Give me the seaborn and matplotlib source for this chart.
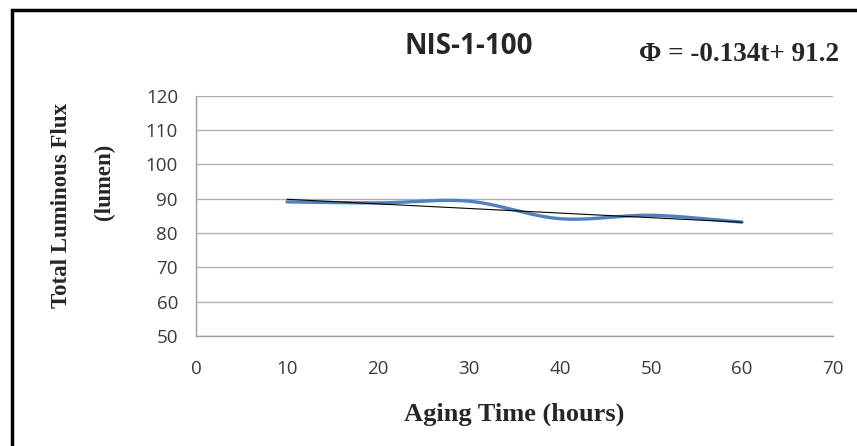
import numpy as np
import pandas as pd
import seaborn as sns
import matplotlib
matplotlib.use('Agg')
import matplotlib.pyplot as plt
from matplotlib.patches import Rectangle

# Data
aging_time = [10, 20, 30, 40, 50, 60]
luminous_flux = [89.1, 88.8, 89.3, 84.2, 85.2, 83.2]
trend_slope = -0.134
trend_intercept = 91.2
x_ticks = [0, 10, 20, 30, 40, 50, 60, 70]
y_ticks = [50, 60, 70, 80, 90, 100, 110, 120]

df = pd.DataFrame({'t': aging_time, 'flux': luminous_flux})


def smooth(x, y, n=30):
    # Catmull-Rom spline through the points (like Excel's smoothed line)
    x = np.asarray(x, float)
    y = np.asarray(y, float)
    px = np.concatenate([[2 * x[0] - x[1]], x, [2 * x[-1] - x[-2]]])
    py = np.concatenate([[2 * y[0] - y[1]], y, [2 * y[-1] - y[-2]]])
    xs, ys = [], []
    s = np.linspace(0, 1, n, endpoint=False)
    for i in range(1, len(px) - 2):
        for P, out in ((px, xs), (py, ys)):
            p0, p1, p2, p3 = P[i - 1], P[i], P[i + 1], P[i + 2]
            out.extend(0.5 * (2 * p1 + (-p0 + p2) * s
                              + (2 * p0 - 5 * p1 + 4 * p2 - p3) * s ** 2
                              + (-p0 + 3 * p1 - 3 * p2 + p3) * s ** 3))
    xs.append(x[-1])
    ys.append(y[-1])
    return np.array(xs), np.array(ys)


sx, sy = smooth(df['t'], df['flux'])
curve = pd.DataFrame({'t': sx, 'flux': sy})
trend = pd.DataFrame({'t': [aging_time[0], aging_time[-1]]})
trend['flux'] = trend_slope * trend['t'] + trend_intercept

sns.set_style('white')

fig = plt.figure(figsize=(8.57, 4.46), dpi=100)
ax = fig.add_axes([0.2287, 0.2466, 0.7433, 0.5384])

sns.lineplot(data=curve, x='t', y='flux', ax=ax, color='#4F81BD', linewidth=2.4,
             sort=False, estimator=None)
sns.lineplot(data=trend, x='t', y='flux', ax=ax, color='black', linewidth=0.8)

ax.set_xlim(0, 70)
ax.set_ylim(50, 120)
ax.set_xticks(x_ticks)
ax.set_yticks(y_ticks)
ax.tick_params(axis='both', length=0, labelsize=13.5, colors='#3a3a3a')
ax.tick_params(axis='x', pad=17)
ax.tick_params(axis='y', pad=13)
for lab in ax.get_xticklabels() + ax.get_yticklabels():
    lab.set_family('Open Sans')

ax.yaxis.grid(True, color='#b0b0b0', linewidth=1)
ax.set_axisbelow(True)
for side in ['top', 'right']:
    ax.spines[side].set_visible(False)
for side in ['left', 'bottom']:
    ax.spines[side].set_color('#a0a0a0')
    ax.spines[side].set_linewidth(1)

ax.set_xlabel('Aging Time (hours)', family='Liberation Serif', fontweight='bold',
              fontsize=19, labelpad=18)
ax.set_ylabel('')

fig.text(0.072, 0.54, 'Total Luminous Flux', rotation=90,
         family='Liberation Serif', fontweight='bold', fontsize=16.5,
         ha='center', va='center')
fig.text(0.122, 0.592, '(lumen)', rotation=90,
         family='Liberation Serif', fontweight='bold', fontsize=16.5,
         ha='center', va='center')
fig.text(0.547, 0.895, 'NIS-1-100', family='Open Sans', fontweight='bold',
         fontsize=20, ha='center', va='center')
fig.text(0.862, 0.878, '\u03a6 = -0.134t+ 91.2', family='Liberation Serif',
         fontweight='bold', fontsize=19.5, ha='center', va='center')

# outer frame like the pasted chart border
fig.patches.append(Rectangle((11.5 / 857, -0.1), 1.0, 1.1 - 10 / 446,
                             transform=fig.transFigure, fill=False,
                             edgecolor='black', linewidth=2.5))

fig.savefig('out.png', dpi=100, facecolor='white')
